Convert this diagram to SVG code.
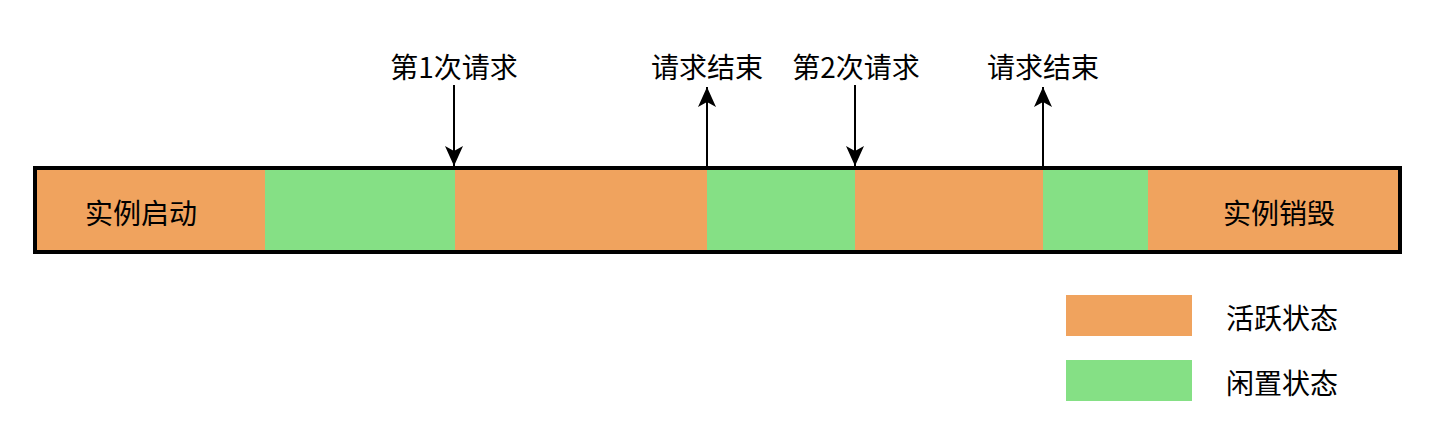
<svg xmlns="http://www.w3.org/2000/svg" width="1439" height="436" viewBox="0 0 1439 436">
<style>
.t{font-family:"Noto Sans CJK SC","Liberation Sans",sans-serif;font-size:28px;fill:#000;dominant-baseline:central}
.a{fill:#F0A35E}
.i{fill:#85E085}
.c{stroke:#000;stroke-width:2;fill:none}
</style>
<defs>
<marker id="ah" viewBox="0 0 10 10" refX="10" refY="5" markerWidth="9" markerHeight="9" markerUnits="userSpaceOnUse" orient="auto">
<path d="M0,0 L10,5 L0,10 L2.5,5 Z" fill="#000"/>
</marker>
<marker id="ah2" viewBox="0 0 20 18" refX="20" refY="9" markerWidth="20" markerHeight="18" markerUnits="userSpaceOnUse" orient="auto">
<path d="M0,0 L20,9 L0,18 L5,9 Z" fill="#000"/>
</marker>
</defs>
<rect width="1439" height="436" fill="#fff"/>
<g id="bar">
<rect class="a" x="35" y="168" width="230" height="84"/>
<rect class="i" x="265" y="168" width="190" height="84"/>
<rect class="a" x="455" y="168" width="252" height="84"/>
<rect class="i" x="707" y="168" width="148" height="84"/>
<rect class="a" x="855" y="168" width="188" height="84"/>
<rect class="i" x="1043" y="168" width="105" height="84"/>
<rect class="a" x="1148" y="168" width="252" height="84"/>
<rect x="35" y="168" width="1365" height="84" fill="none" stroke="#000" stroke-width="4"/>
<text class="t" x="141" y="212" text-anchor="middle">实例启动</text>
<text class="t" x="1279" y="212" text-anchor="middle">实例销毁</text>
</g>
<g id="label1"><text class="t" x="454" y="66" text-anchor="middle">第1次请求</text></g>
<g id="label2"><text class="t" x="707" y="66" text-anchor="middle">请求结束</text></g>
<g id="label3"><text class="t" x="856" y="66" text-anchor="middle">第2次请求</text></g>
<g id="label4"><text class="t" x="1043" y="66" text-anchor="middle">请求结束</text></g>
<g id="legend-active">
<rect class="a" x="1066" y="295" width="126" height="41"/>
<text class="t" x="1226" y="317">活跃状态</text>
</g>
<g id="legend-idle">
<rect class="i" x="1066" y="360" width="126" height="41"/>
<text class="t" x="1226" y="382">闲置状态</text>
</g>
<g id="connectors">
<line class="c" x1="454" y1="85" x2="454" y2="166" marker-end="url(#ah2)"/>
<line class="c" x1="707" y1="168" x2="707" y2="87" marker-end="url(#ah2)"/>
<line class="c" x1="855" y1="85" x2="855" y2="166" marker-end="url(#ah2)"/>
<line class="c" x1="1043" y1="168" x2="1043" y2="87" marker-end="url(#ah2)"/>
</g>
</svg>
